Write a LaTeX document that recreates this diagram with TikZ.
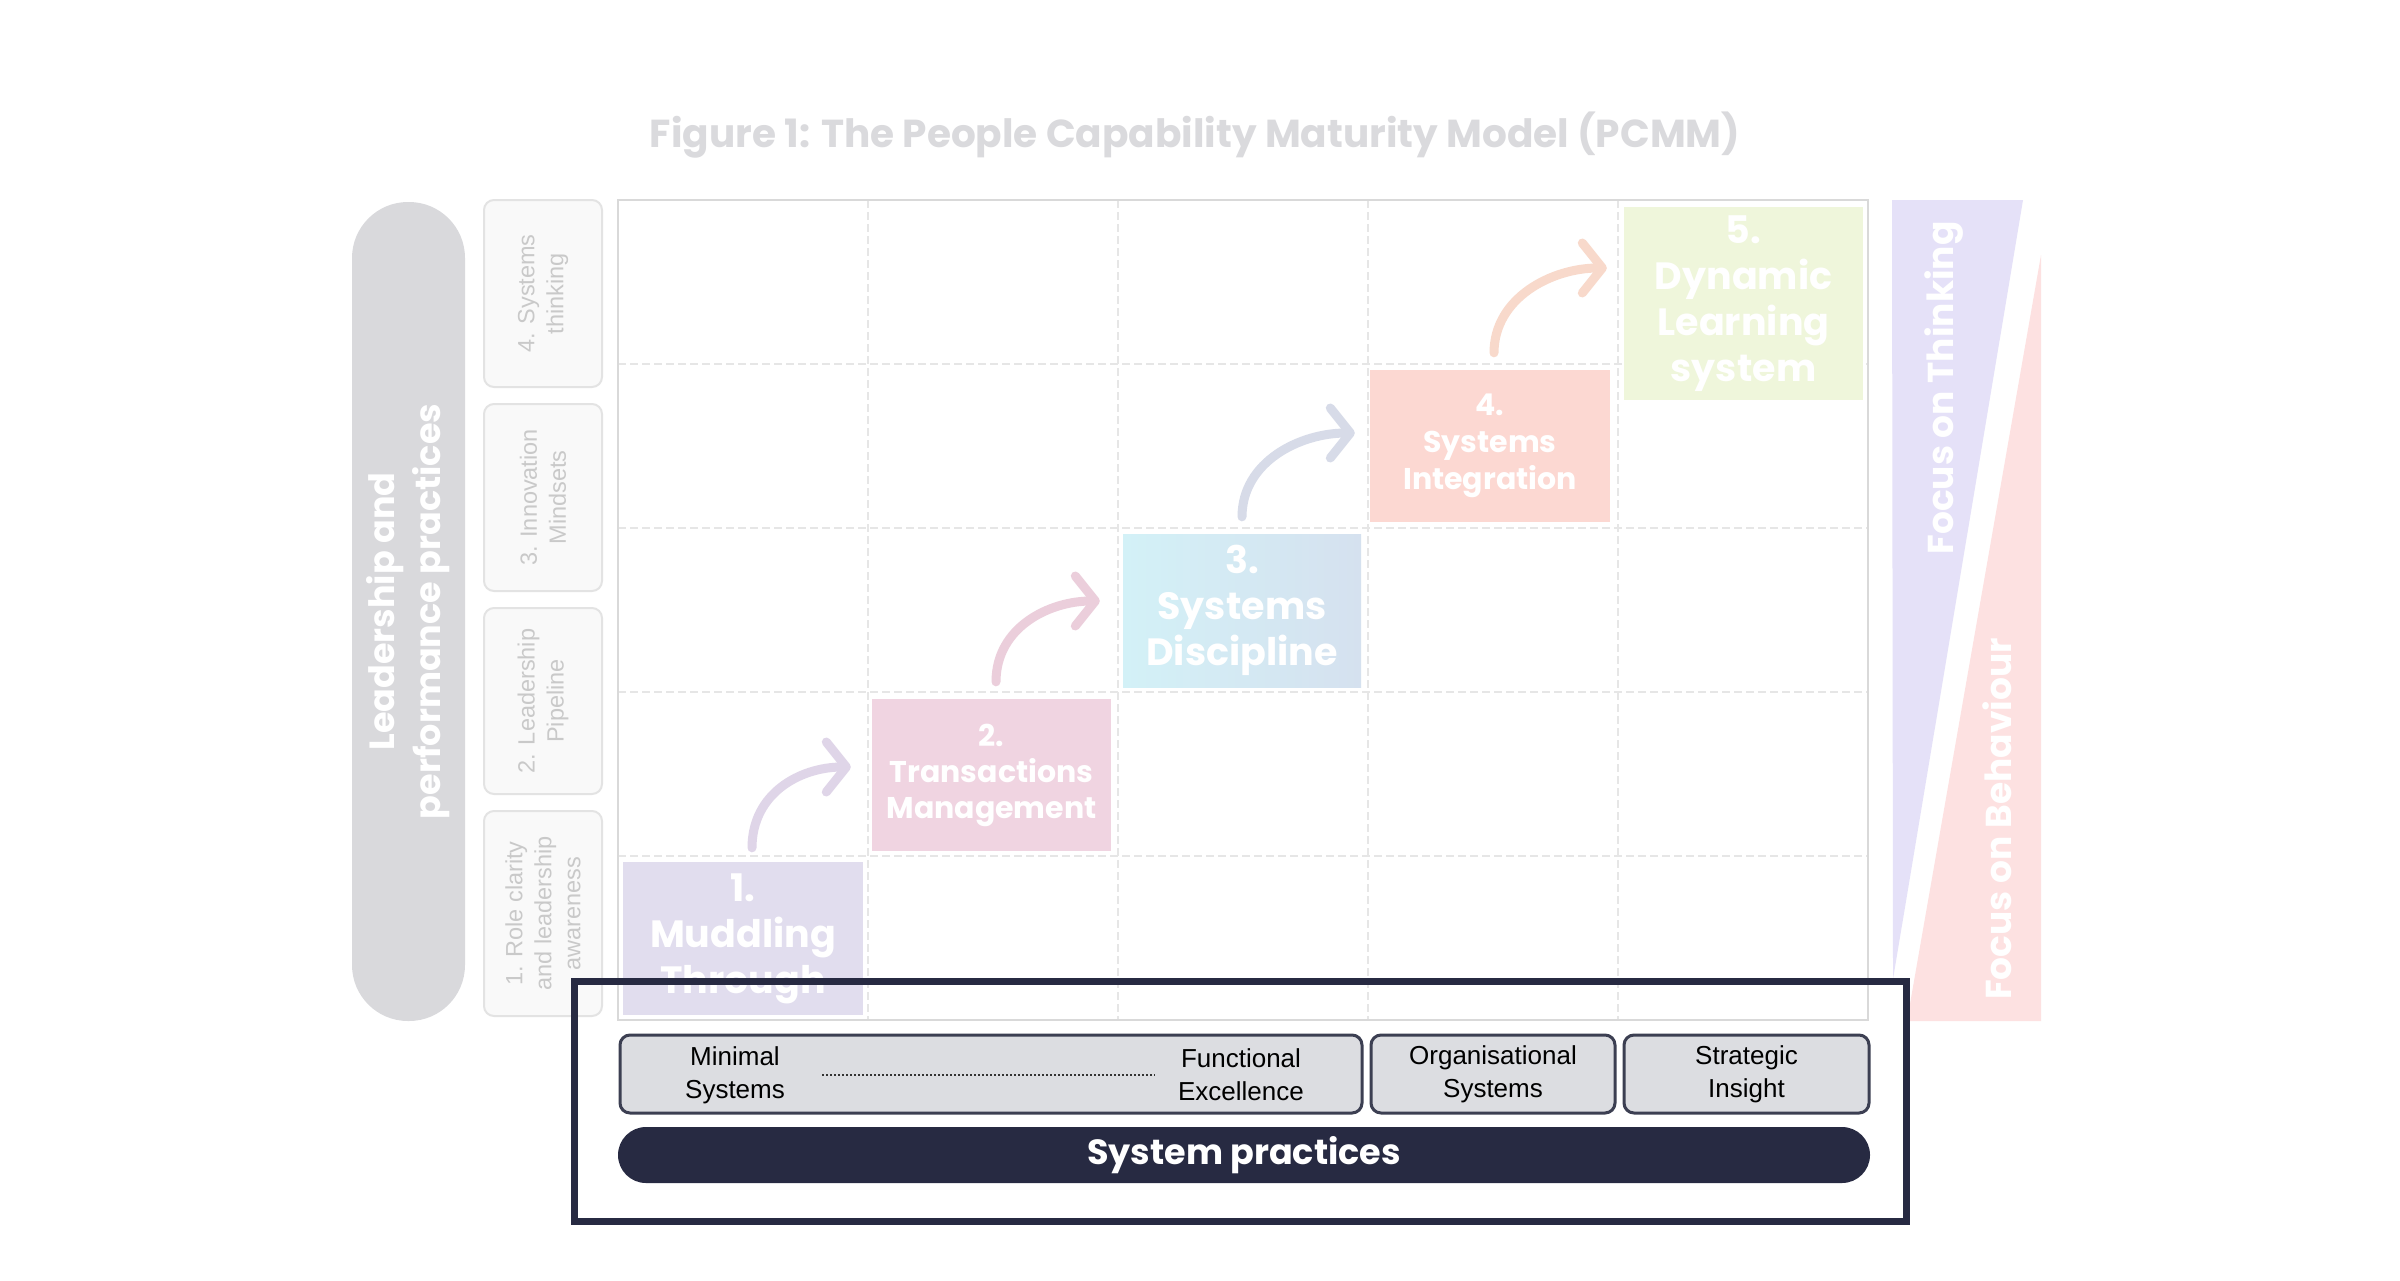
\documentclass[tikz,border=0pt]{standalone}
\usepackage{fontspec}
\setmainfont{Poppins}
\newfontfamily\arialf{Liberation Sans}
\usetikzlibrary{arrows.meta,calc}
\definecolor{titlegray}{HTML}{DADADD}
\definecolor{pillgray}{HTML}{D9D9DC}
\definecolor{smallfill}{HTML}{F9F9F9}
\definecolor{smallborder}{HTML}{E3E3E3}
\definecolor{smalltext}{HTML}{C9C9C9}
\definecolor{gridsolid}{HTML}{D9D9D9}
\definecolor{griddash}{HTML}{E6E6E6}
\definecolor{sone}{HTML}{E1DDEE}
\definecolor{stwo}{HTML}{F0D4E1}
\definecolor{sthreea}{HTML}{D3F1F7}
\definecolor{sthreeb}{HTML}{D5E1EF}
\definecolor{sfour}{HTML}{FCD8D2}
\definecolor{sfive}{HTML}{EFF6DB}
\definecolor{aone}{HTML}{DFD5E8}
\definecolor{atwo}{HTML}{EBCEDB}
\definecolor{athree}{HTML}{D7DBE8}
\definecolor{afour}{HTML}{F8D9CB}
\definecolor{lavtri}{HTML}{E5E1F8}
\definecolor{pinktri}{HTML}{FDE1E1}
\definecolor{navy}{HTML}{272A42}
\definecolor{grayboxfill}{HTML}{DCDDE1}
\definecolor{grayboxline}{HTML}{3C3F52}
\tikzset{
  stagebox/.style={rectangle, inner sep=0pt, text=white, align=center,
    font=\bfseries},
  smallbox/.style={rectangle, rounded corners=10pt, draw=smallborder, line width=2pt,
    fill=smallfill, minimum width=118pt, inner sep=0pt},
  smalltxt/.style={text=smalltext, align=center, rotate=90,
    font=\arialf\fontsize{23.5}{29}\selectfont},
  graybox/.style={rectangle, rounded corners=10pt, draw=grayboxline, line width=3pt,
    fill=grayboxfill, minimum height=78pt, inner sep=0pt},
  graytxt/.style={align=center, text=black, font=\arialf\fontsize{26}{33}\selectfont},
  steparrow/.style={line width=9pt, line cap=round,
    -{Straight Barb[length=20pt,width=50pt,round]}},
  focustxt/.style={text=white, rotate=90, font=\fontsize{36}{42}\selectfont\bfseries},
}
\begin{document}
\begin{tikzpicture}[x=1pt,y=-1pt]
\useasboundingbox (0,0) rectangle (2400,1280);
\fill[white] (0,0) rectangle (2400,1280);

% title
\node[text=titlegray, font=\fontsize{39}{46}\selectfont\bfseries] (title) at (1195,135)
  {Figure 1: The People Capability Maturity Model (PCMM)};

% left pill
\node[rectangle, rounded corners=56pt, fill=pillgray, minimum width=113pt,
  minimum height=819pt] (pill) at (408.5,611.5) {};
\node[text=white, rotate=90, align=center, font=\fontsize{35}{46}\selectfont\bfseries]
  (pilltxt) at (pill.center) {Leadership and\\performance practices};

% small boxes
\node[smallbox, minimum height=187pt] (lp4) at (543,293.5) {};
\node[smallbox, minimum height=187pt] (lp3) at (543,497.5) {};
\node[smallbox, minimum height=186pt] (lp2) at (543,701) {};
\node[smallbox, minimum height=205pt] (lp1) at (543,913.5) {};
\node[smalltxt] (lp4t) at (lp4.center) {4. Systems\\thinking};
\node[smalltxt] (lp3t) at (lp3.center) {3. Innovation\\Mindsets};
\node[smalltxt] (lp2t) at (lp2.center) {2. Leadership\\Pipeline};
\node[smalltxt] (lp1t) at (lp1.center) {1. Role clarity\\and leadership\\awareness};

% grid
\foreach \gx in {868,1118,1368,1618}
  \draw[griddash, line width=1.5pt, dash pattern=on 8pt off 4pt] (\gx,200) -- (\gx,1020);
\foreach \gy in {364,528,692,856}
  \draw[griddash, line width=1.5pt, dash pattern=on 8pt off 4pt] (618,\gy) -- (1868,\gy);
\draw[gridsolid, line width=2pt] (618,200) rectangle (1868,1020);

% focus triangles
\fill[lavtri] (1892,200) -- (2023,200) -- (1893,979) -- cycle;
\fill[pinktri] (2041,255) -- (2041,1021) -- (1907,1021) -- cycle;
\node[focustxt] (ft) at (1944,388) {Focus on Thinking};
\node[focustxt] (fb) at (1997,819) {Focus on Behaviour};

% stage boxes
\node[stagebox, fill=sone, minimum width=240pt, minimum height=153pt,
  font=\fontsize{38}{46}\selectfont\bfseries] (b1) at (743,938.5) {1.\\Muddling\\Through};
\node[stagebox, fill=stwo, minimum width=239pt, minimum height=152pt,
  font=\fontsize{30}{36}\selectfont\bfseries] (b2) at (991.5,775) {2.\\Transactions\\Management};
\node[stagebox, left color=sthreea, right color=sthreeb, minimum width=238pt, minimum height=153pt,
  font=\fontsize{38}{46}\selectfont\bfseries] (b3) at (1242,610.5) {3.\\Systems\\Discipline};
\node[stagebox, fill=sfour, minimum width=240pt, minimum height=152pt,
  font=\fontsize{30}{37}\selectfont\bfseries] (b4) at (1490,446) {4.\\Systems\\Integration};
\node[stagebox, fill=sfive, minimum width=239pt, minimum height=193pt,
  font=\fontsize{38}{46}\selectfont\bfseries] (b5) at (1743.5,303.5) {5.\\Dynamic\\Learning\\system};

% step arrows
\draw[steparrow, aone] ($(b1.north)+(9,-14)$) .. controls +(0,-55) and +(-50,0) .. ($(b2.west)+(-21,-8)$);
\draw[steparrow, atwo] ($(b2.north)+(4.5,-17)$) .. controls +(0,-55) and +(-50,0) .. ($(b3.west)+(-23,-9.5)$);
\draw[steparrow, athree] ($(b3.north)+(0,-17)$) .. controls +(0,-55) and +(-55,0) .. ($(b4.west)+(-15,-13)$);
\draw[steparrow, afour] ($(b4.north)+(4,-17)$) .. controls +(0,-55) and +(-55,0) .. ($(b5.west)+(-17,-35.5)$);

% system practices frame
\node[graybox, minimum width=742pt] (ga) at (991,1074) {};
\node[graybox, minimum width=244pt] (gb) at (1493,1074) {};
\node[graybox, minimum width=245pt] (gc) at (1746.5,1074) {};
\node[graytxt] (gat1) at (735,1075) {Minimal\\Systems};
\node[graytxt] (gat2) at (1241,1075) {Functional\\Excellence};
\node[graytxt] (gbt) at (gb.center) {Organisational\\Systems};
\node[graytxt] (gct) at (gc.center) {Strategic\\Insight};
\draw[black!80, line width=2pt, dotted] ($(gat1.east)+(34,0)$) -- ($(gat2.west)+(-20,0)$);

\node[rectangle, rounded corners=28pt, fill=navy, minimum width=1252pt, minimum height=56pt,
  text=white, font=\fontsize{35}{40}\selectfont\bfseries] (sp) at (1244,1155) {System practices};

\draw[navy, line width=7pt] (574,981) rectangle (1906,1221);
\end{tikzpicture}
\end{document}
